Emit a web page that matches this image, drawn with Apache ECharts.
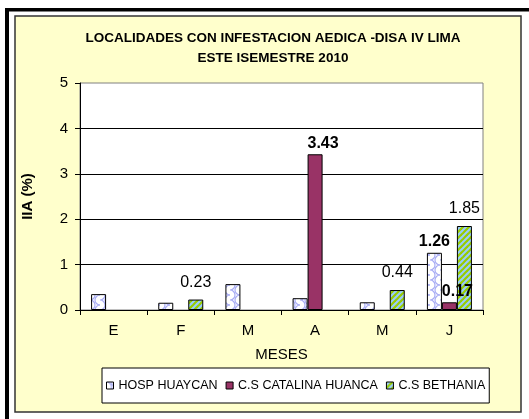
<!DOCTYPE html>
<html><head><meta charset="utf-8">
<script src="https://cdn.jsdelivr.net/npm/echarts@6/dist/echarts.min.js"></script>
<style>html,body{margin:0;padding:0;background:#fff}#c{width:529px;height:419px}</style>
</head><body><div id="c"></div>
<script>
const months = ['E', 'F', 'M', 'A', 'M', 'J'];
const seriesNames = ['HOSP HUAYCAN', 'C.S CATALINA HUANCA', 'C.S BETHANIA'];
const hospHuaycan = [0.35, 0.16, 0.57, 0.26, 0.17, 1.26];
const csCatalina = [null, null, null, 3.43, null, 0.17];
const csBethania = [null, 0.23, null, null, 0.44, 1.85];
const hospLabels = [false, false, false, false, false, true];
const catalinaLabels = [false, false, false, true, false, true];
const bethaniaLabels = [false, true, false, false, true, true];
const yTicks = [0, 1, 2, 3, 4, 5];

const FONT = 'Liberation Sans, Arial, sans-serif';

function hospPattern() {
  const c = document.createElement('canvas'); c.width = 10; c.height = 10;
  const g = c.getContext('2d');
  g.fillStyle = '#ffffff'; g.fillRect(0, 0, 10, 10);
  g.strokeStyle = '#a8acf4'; g.lineWidth = 1.2;
  g.beginPath(); g.arc(0, 5, 5, -Math.PI / 2, Math.PI / 2); g.stroke();
  g.beginPath(); g.arc(10, 0, 5, Math.PI / 2, Math.PI); g.stroke();
  g.beginPath(); g.arc(10, 10, 5, Math.PI, Math.PI * 1.5); g.stroke();
  return c;
}
function bethPattern() {
  const c = document.createElement('canvas'); c.width = 6; c.height = 6;
  const g = c.getContext('2d');
  g.fillStyle = '#99ccff'; g.fillRect(0, 0, 6, 6);
  g.strokeStyle = '#99cc00'; g.lineWidth = 2.2;
  g.beginPath(); g.moveTo(-1, 7); g.lineTo(7, -1); g.stroke();
  g.beginPath(); g.moveTo(-4, 4); g.lineTo(4, -4); g.stroke();
  g.beginPath(); g.moveTo(2, 10); g.lineTo(10, 2); g.stroke();
  return c;
}
const hospFill = { image: hospPattern(), repeat: 'repeat' };
const bethFill = { image: bethPattern(), repeat: 'repeat' };

function buildData(values, shown, bold, dist, offset) {
  return values.map((v, i) => ({
    value: v,
    label: {
      show: shown[i] && v !== null,
      position: 'top',
      distance: dist,
      offset: offset || [0, 0],
      fontWeight: bold ? 'bold' : 'normal',
      fontSize: 16,
      fontFamily: FONT,
      color: '#000'
    }
  }));
}

const chart = echarts.init(document.getElementById('c'), null, { renderer: 'canvas' });
chart.setOption({
  animation: false,
  backgroundColor: '#ffffff',
  textStyle: { fontFamily: FONT },
  graphic: [
    { type: 'rect', z: -10, shape: { x: 15, y: 16, width: 506, height: 396 },
      style: { fill: '#ffffcc', stroke: '#333333', lineWidth: 1.5 } },
    { type: 'rect', z: -10, shape: { x: 5, y: 8, width: 524, height: 3.5 }, style: { fill: '#000' } },
    { type: 'rect', z: -10, shape: { x: 5, y: 8, width: 4, height: 411 }, style: { fill: '#000' } }
  ],
  title: {
    text: 'LOCALIDADES CON INFESTACION AEDICA -DISA IV LIMA\nESTE ISEMESTRE 2010',
    left: 268, textAlign: 'center', top: 23,
    textStyle: { fontSize: 13.5, fontWeight: 'bold', lineHeight: 20, color: '#000', fontFamily: FONT }
  },
  legend: {
    data: seriesNames,
    icon: 'rect',
    left: 102, top: 368,
    padding: [11, 4, 11, 4],
    itemWidth: 7, itemHeight: 7, itemGap: 8,
    backgroundColor: '#ffffff', borderColor: '#000', borderWidth: 1, borderRadius: 0,
    textStyle: { fontSize: 12.5, color: '#000', fontFamily: FONT, lineHeight: 12 },
    itemStyle: { borderColor: '#000', borderWidth: 1 }
  },
  grid: {
    left: 80, right: 46, top: 83, bottom: 109,
    show: true, backgroundColor: '#ffffff', borderColor: '#808080', borderWidth: 1
  },
  xAxis: {
    type: 'category', data: months,
    name: 'MESES', nameLocation: 'middle', nameGap: 37,
    nameTextStyle: { fontSize: 15, color: '#000', fontFamily: FONT },
    axisLine: { lineStyle: { color: '#000', width: 1 } },
    axisTick: { show: true, inside: false, length: 5, lineStyle: { color: '#000' } },
    axisLabel: { fontSize: 15, color: '#000', margin: 13, fontFamily: FONT }
  },
  yAxis: {
    type: 'value', min: yTicks[0], max: yTicks[yTicks.length - 1], interval: 1,
    name: 'IIA (%)', nameLocation: 'middle', nameGap: 45,
    nameTextStyle: { fontSize: 15, fontWeight: 'bold', color: '#000', fontFamily: FONT },
    axisLine: { show: true, lineStyle: { color: '#000', width: 1 } },
    axisTick: { show: true, length: 5, lineStyle: { color: '#000' } },
    axisLabel: { fontSize: 15, color: '#000', margin: 12, fontFamily: FONT },
    splitLine: { show: true, showMaxLine: false, lineStyle: { color: '#000', width: 1 } }
  },
  series: [
    { name: seriesNames[0], type: 'bar', barWidth: 15, barGap: '0%',
      itemStyle: { color: hospFill, borderColor: '#000', borderWidth: 1 },
      data: buildData(hospHuaycan, hospLabels, true, 3) },
    { name: seriesNames[1], type: 'bar', barWidth: 15, barGap: '0%',
      itemStyle: { color: '#993366', borderColor: '#000', borderWidth: 1 },
      data: buildData(csCatalina, catalinaLabels, true, 3, [8, 0]) },
    { name: seriesNames[2], type: 'bar', barWidth: 15, barGap: '0%',
      itemStyle: { color: bethFill, borderColor: '#000', borderWidth: 1 },
      data: buildData(csBethania, bethaniaLabels, false, 9) }
  ]
});
</script></body></html>
